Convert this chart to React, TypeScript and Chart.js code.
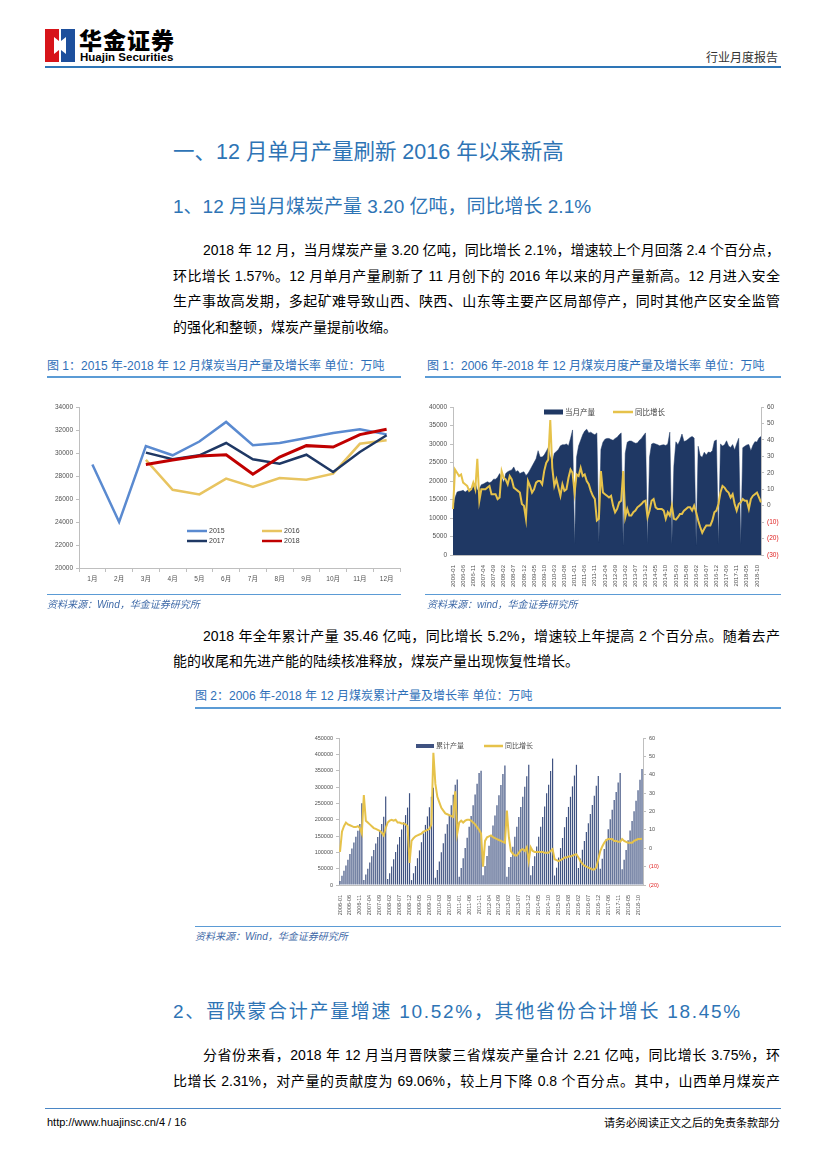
import React, { useEffect, useRef } from 'react';
import { Chart, registerables } from 'chart.js';

Chart.register(...registerables);

// ---------------- DATA ----------------
const MONTHS_1 = ['1月', '2月', '3月', '4月', '5月', '6月', '7月', '8月', '9月', '10月', '11月', '12月'];
const OUT_2015 = [29000, 24000, 30600, 29800, 31000, 32700, 30670, 30870, 31300, 31740, 32060, 31620];
const OUT_2016 = [null, null, 29400, 26800, 26400, 27770, 27040, 27830, 27680, 28200, 30800, 31100];
const OUT_2017 = [null, null, 30030, 29450, 29800, 30870, 29450, 29070, 29850, 28350, 30090, 31540];
const OUT_2018 = [null, null, 29000, 29390, 29740, 29850, 28150, 29650, 30640, 30520, 31600, 32060];

const YEARS = [2006, 2007, 2008, 2009, 2010, 2011, 2012, 2013, 2014, 2015, 2016, 2017, 2018];
const MONTH_CODES = ['01', '02', '03', '04', '05', '06', '07', '08', '09', '10', '11', '12'];
const YEARS_WITHOUT_JAN = [2016, 2017, 2018];
const PERIODS: string[] = YEARS.flatMap((y) =>
  MONTH_CODES.filter((m) => !(m === '01' && YEARS_WITHOUT_JAN.includes(y))).map((m) => `${y}-${m}`)
);

// 当月产量 (万吨)
const MONTHLY_OUTPUT = [
  12500, 15500, 17000, 17200, 17300, 17500, 17000, 17400, 17800, 18000, 18300, 19500,
  17500, 18000, 19000, 19200, 19500, 19800, 19500, 19800, 20500, 20500, 21000, 22000,
  21000, 19500, 22000, 22500, 22800, 23000, 23800, 22500, 22800, 22000, 22300, 22500,
  21500, 22000, 23000, 24000, 25000, 26000, 28200, 26500, 26500, 27000, 28000, 29000,
  26500, 25000, 27500, 28000, 28500, 29500, 29800, 29800, 30000, 29500, 31500, 33800,
  3000, 26500, 29500, 31000, 32500, 33500, 34000, 33000, 33200, 32800, 32500, 33000,
  3500, 28500, 30500, 31300, 31500, 31500, 31200, 31000, 31500, 31800, 32500, 33000,
  2500, 27500, 30500, 30800, 30800, 30500, 30200, 30300, 31000, 31500, 32300, 33000,
  3000, 26500, 30000, 30200, 30000, 29800, 29500, 29700, 29800, 29600, 30000, 33200,
  3000, 24000, 30600, 29800, 31000, 32700, 30670, 30870, 31300, 31740, 32060, 31620,
  2500, 29400, 26800, 26400, 27770, 27040, 27830, 27680, 28200, 30800, 31100,
  3000, 30030, 29450, 29800, 30870, 29450, 29070, 29850, 28350, 30090, 31540,
  3000, 29000, 29390, 29740, 29850, 28150, 29650, 30640, 30520, 31600, 32060,
];

// 当月同比增长 (%)
const MONTHLY_YOY = [
  -2, 22, 20, 18, 19, 14, 13, 12, 9, 10, 14, 10,
  28.5, 3, 10, 10, 10, 11, 12, 7, 7, 7, 4, 5,
  21, 17, 16, 13, 18, 16, 11, 10, 9, 8, 1, 0,
  -8, 15, 12, 8, 10, 14, 15, 15, 13, 21, 26, 28,
  52, 23, 12, 16, 11, 6, 13, 9, 10, 17, 22, 20,
  8, 19, 18, 23, 18, 19, 15, 13, 9, 6, 4, -9,
  -8, 21, 8, 7, 6, 5, 6, 0, -4, -2, 2, 3,
  21, -7, -2, -6, -6, -4, -3, -1, 0, 1, 2.5, 3,
  -7, -3, 3, 4, -1, -2, -2, -2, -3, -8, -4, -6,
  0, -8, -8.5, -7, -5, -5, -3, -2, -1, -1, -3, 0,
  -4, -9, -13, -16.5, -14, -12, -12, -12, -9, -4, -3,
  1, 8, 12, 11, 9, 8, 5, 7, 1, -3, 1,
  2, 4, 3, 3, -2, 4, 6, 7, 8, 5, 2,
];

// 累计产量 (万吨)
const CUM_OUTPUT = [
  12000, 28000, 44000, 60000, 77000, 95000, 112000, 130000, 148000, 166000, 187000, 250000,
  15000, 32000, 50000, 69000, 88000, 107000, 127000, 147000, 167000, 187000, 209000, 271000,
  18000, 36000, 57000, 79000, 101000, 124000, 147000, 170000, 192000, 214000, 237000, 281000,
  15000, 36000, 58000, 82000, 106000, 131000, 158000, 184000, 210000, 238000, 270000, 298000,
  22000, 46000, 72000, 100000, 128000, 157000, 186000, 214000, 244000, 276000, 307000, 323000,
  25000, 52000, 82000, 113000, 145000, 178000, 211000, 244000, 277000, 310000, 343000, 350000,
  30000, 58000, 89000, 120000, 151000, 182000, 213000, 244000, 275000, 306000, 340000, 366000,
  25000, 55000, 86000, 117000, 148000, 178000, 208000, 239000, 270000, 301000, 333000, 368000,
  30000, 58000, 88000, 118000, 148000, 178000, 208000, 240000, 281000, 307000, 349000, 387000,
  29000, 53000, 84000, 113000, 144000, 177000, 208000, 239000, 270000, 302000, 335000, 368000,
  52000, 81000, 108000, 135000, 162000, 189000, 217000, 245000, 273000, 304000, 334000,
  50000, 80000, 110000, 140000, 171000, 201000, 230000, 260000, 285000, 314000, 343000,
  48000, 77000, 107000, 137000, 167000, 196000, 226000, 258000, 290000, 322000, 355000,
];

// 累计同比增长 (%)
const CUM_YOY = [
  -2, 9, 12, 14, 13, 12.5, 12, 11.5, 11.5, 12, 11, 8,
  29, 15, 14, 13, 12, 11, 10.5, 10, 9.5, 8.5, 7, 11,
  14, 15, 15.5, 15, 15.5, 14, 14, 13.5, 13.5, 13, 12, -8,
  4, 5.5, 6.5, 7, 7.5, 8, 9, 9.5, 10, 10.5, 13, 52,
  35, 28, 25, 22, 20.5, 19, 18.5, 18, 17.5, 17, 31, 8,
  14, 15, 14, 15, 15.5, 15.5, 15, 14, 13, 11.5, 10, 8,
  -10, 4, 6, 6.5, 7, 6, 5.5, 5, 4.5, 4, 3.5, 3,
  20.5, 6, -1.5, -3, -4, -4, -2.5, -1, -0.5, -1.5, 0.5, -7,
  0.5, -1.5, -2, -2, -2, -2, -2, -2.5, -2.5, -2.5, -1.5, -0.5,
  -6, -6.5, -7, -6.5, -6, -5, -5, -4.5, -4.5, -4, -3.5, -3.3,
  -5, -7, -8.5, -9.5, -10, -10.5, -11, -11.5, -11.5, -10.5, -6,
  -1.5, 1, 3, 4.5, 5, 5, 5, 4, 4, 3.5, 3.5,
  5, 4, 3.5, 3, 3, 3, 4, 4.5, 5, 5, 5.2,
];

// ---------------- STYLE ----------------
const SANS = '"Liberation Sans", "Noto Sans CJK SC", sans-serif';
const TICK_FONT = '"Liberation Sans", "Noto Sans CJK SC"';
const AXIS_GREY = '#bfbfbf';
const TICK_COLOR = '#505050';
const NAVY = '#1f3864';
const GOLD = '#e6c24a';
const BLUE_TXT = '#2e74b5';

type LegendItem = { ds: number; kind: 'line' | 'box'; x: number; y: number; w: number; h: number };

function makeLegend(items: LegendItem[], font: string, color: string) {
  return {
    id: 'inlineLegend',
    afterDraw(chart: any) {
      const ctx = chart.ctx;
      ctx.save();
      for (const it of items) {
        const ds = chart.data.datasets[it.ds];
        const col = ds.borderColor && it.kind === 'line' ? ds.borderColor : ds.backgroundColor;
        if (it.kind === 'box') {
          ctx.fillStyle = col;
          ctx.fillRect(it.x, it.y - it.h / 2, it.w, it.h);
        } else {
          ctx.strokeStyle = col;
          ctx.lineWidth = it.h;
          ctx.beginPath();
          ctx.moveTo(it.x, it.y);
          ctx.lineTo(it.x + it.w, it.y);
          ctx.stroke();
        }
        ctx.fillStyle = color;
        ctx.font = font;
        ctx.textBaseline = 'middle';
        ctx.textAlign = 'left';
        ctx.fillText(ds.label, it.x + it.w + 2, it.y + 0.5);
      }
      ctx.restore();
    },
  };
}

function ChartBox({ left, top, width, height, make }: { left: number; top: number; width: number; height: number; make: (c: HTMLCanvasElement) => Chart }) {
  const ref = useRef<HTMLCanvasElement | null>(null);
  useEffect(() => {
    if (!ref.current) return;
    const ch = make(ref.current);
    return () => ch.destroy();
  }, []);
  return (
    <div style={{ position: 'absolute', left, top, width, height }}>
      <canvas ref={ref} width={width} height={height} style={{ width, height, display: 'block' }} />
    </div>
  );
}

const every5 = (labels: string[]) => (val: any, i: number) => (i % 5 === 0 ? labels[i] : '');
const plainNum = (v: any) => String(v);

function makeChart1(c: HTMLCanvasElement) {
  const common = { pointRadius: 0, tension: 0, fill: false, spanGaps: false };
  return new Chart(c, {
    type: 'line',
    data: {
      labels: MONTHS_1,
      datasets: [
        { label: '2015', data: OUT_2015, borderColor: '#5a8ad0', backgroundColor: '#5a8ad0', borderWidth: 2.5, order: 3, ...common },
        { label: '2016', data: OUT_2016, borderColor: '#e8c460', backgroundColor: '#e8c460', borderWidth: 2.5, order: 2, ...common },
        { label: '2017', data: OUT_2017, borderColor: NAVY, backgroundColor: NAVY, borderWidth: 2.5, order: 1, ...common },
        { label: '2018', data: OUT_2018, borderColor: '#c00000', backgroundColor: '#c00000', borderWidth: 3, order: 0, ...common },
      ] as any,
    },
    options: {
      responsive: false,
      animation: false,
      devicePixelRatio: 1,
      layout: { padding: { top: 12, right: 10, left: 0, bottom: 0 } },
      plugins: { legend: { display: false }, tooltip: { enabled: false } },
      scales: {
        x: {
          offset: true,
          grid: { offset: true, drawOnChartArea: false, tickLength: 4, color: AXIS_GREY },
          border: { color: AXIS_GREY },
          ticks: { font: { size: 6.5, family: TICK_FONT }, color: TICK_COLOR, padding: 3, maxRotation: 0, minRotation: 0, autoSkip: false },
          afterFit: (s: any) => { s.height = 22; },
        },
        y: {
          min: 20000,
          max: 34000,
          ticks: { stepSize: 2000, font: { size: 6.5, family: TICK_FONT }, color: TICK_COLOR, padding: 3, callback: plainNum },
          grid: { drawOnChartArea: false, tickLength: 3, color: AXIS_GREY },
          border: { color: AXIS_GREY },
          afterFit: (s: any) => { s.width = 39; },
        },
      },
    } as any,
    plugins: [
      makeLegend(
        [
          { ds: 0, kind: 'line', x: 147, y: 136, w: 20, h: 2.5 },
          { ds: 1, kind: 'line', x: 222, y: 136, w: 20, h: 2.5 },
          { ds: 2, kind: 'line', x: 147, y: 146, w: 20, h: 2.5 },
          { ds: 3, kind: 'line', x: 222, y: 146, w: 20, h: 2.5 },
        ],
        `7px ${TICK_FONT}`,
        '#404040'
      ),
    ],
  });
}

function rightTick(v: number) {
  return v < 0 ? `(${-v})` : `${v}`;
}

function makeChart2(c: HTMLCanvasElement) {
  return new Chart(c, {
    type: 'line',
    data: {
      labels: PERIODS,
      datasets: [
        { label: '当月产量', data: MONTHLY_OUTPUT, yAxisID: 'y', fill: 'origin', backgroundColor: NAVY, borderColor: NAVY, borderWidth: 0.5, pointRadius: 0, tension: 0, order: 1 },
        { label: '同比增长', data: MONTHLY_YOY, yAxisID: 'y2', fill: false, borderColor: GOLD, backgroundColor: GOLD, borderWidth: 2, pointRadius: 0, tension: 0, order: 0 },
      ] as any,
    },
    options: {
      responsive: false,
      animation: false,
      devicePixelRatio: 1,
      layout: { padding: { top: 12, right: 0, left: 0, bottom: 0 } },
      plugins: { legend: { display: false }, tooltip: { enabled: false } },
      scales: {
        x: {
          offset: false,
          grid: { display: false },
          border: { color: AXIS_GREY },
          ticks: { autoSkip: false, maxRotation: 90, minRotation: 90, font: { size: 6, family: TICK_FONT }, color: TICK_COLOR, padding: 2, callback: every5(PERIODS) },
          afterFit: (s: any) => { s.height = 40; },
        },
        y: {
          min: 0,
          max: 40000,
          ticks: { stepSize: 5000, font: { size: 6.5, family: TICK_FONT }, color: TICK_COLOR, padding: 3, callback: plainNum },
          grid: { drawOnChartArea: false, tickLength: 3, color: AXIS_GREY },
          border: { color: AXIS_GREY },
          afterFit: (s: any) => { s.width = 33; },
        },
        y2: {
          position: 'right',
          min: -30,
          max: 60,
          ticks: {
            stepSize: 10,
            font: { size: 6.5, family: TICK_FONT },
            color: (ctx: any) => (ctx.tick && ctx.tick.value < 0 ? '#e02020' : TICK_COLOR),
            padding: 3,
            callback: (v: any) => rightTick(Number(v)),
          },
          grid: { drawOnChartArea: false, tickLength: 3, color: AXIS_GREY },
          border: { color: AXIS_GREY },
          afterFit: (s: any) => { s.width = 29; },
        },
      },
    } as any,
    plugins: [
      makeLegend(
        [
          { ds: 0, kind: 'box', x: 124, y: 17, w: 19, h: 5 },
          { ds: 1, kind: 'line', x: 193, y: 17, w: 20, h: 2.5 },
        ],
        `7.5px ${TICK_FONT}`,
        '#404040'
      ),
    ],
  });
}

function makeChart3(c: HTMLCanvasElement) {
  return new Chart(c, {
    type: 'bar',
    data: {
      labels: PERIODS,
      datasets: [
        { type: 'line', label: '同比增长', data: CUM_YOY, yAxisID: 'y2', borderColor: GOLD, backgroundColor: GOLD, borderWidth: 2, pointRadius: 0, tension: 0, order: 0 },
        { type: 'bar', label: '累计产量', data: CUM_OUTPUT, yAxisID: 'y', backgroundColor: '#3f5281', borderWidth: 0, barPercentage: 0.6, categoryPercentage: 1, order: 1 },
      ] as any,
    },
    options: {
      responsive: false,
      animation: false,
      devicePixelRatio: 1,
      layout: { padding: { top: 13, right: 0, left: 0, bottom: 0 } },
      plugins: { legend: { display: false }, tooltip: { enabled: false } },
      scales: {
        x: {
          grid: { display: false },
          border: { color: AXIS_GREY },
          ticks: { autoSkip: false, maxRotation: 90, minRotation: 90, font: { size: 5.5, family: TICK_FONT }, color: TICK_COLOR, padding: 2, callback: every5(PERIODS) },
          afterFit: (s: any) => { s.height = 40; },
        },
        y: {
          min: 0,
          max: 450000,
          ticks: { stepSize: 50000, font: { size: 5.5, family: TICK_FONT }, color: TICK_COLOR, padding: 3, callback: plainNum },
          grid: { drawOnChartArea: false, tickLength: 3, color: AXIS_GREY },
          border: { color: AXIS_GREY },
          afterFit: (s: any) => { s.width = 29; },
        },
        y2: {
          position: 'right',
          min: -20,
          max: 60,
          ticks: {
            stepSize: 10,
            font: { size: 5.5, family: TICK_FONT },
            color: (ctx: any) => (ctx.tick && ctx.tick.value < 0 ? '#e02020' : TICK_COLOR),
            padding: 3,
            callback: (v: any) => rightTick(Number(v)),
          },
          grid: { drawOnChartArea: false, tickLength: 3, color: AXIS_GREY },
          border: { color: AXIS_GREY },
          afterFit: (s: any) => { s.width = 20; },
        },
      },
    } as any,
    plugins: [
      makeLegend(
        [
          { ds: 1, kind: 'box', x: 106, y: 21, w: 18, h: 4 },
          { ds: 0, kind: 'line', x: 174, y: 21, w: 19, h: 2.5 },
        ],
        `7px ${TICK_FONT}`,
        '#505050'
      ),
    ],
  });
}

// ---------------- TEXT HELPERS ----------------
function T({ x, y, size, color = '#000', children, width, justify, italic, bold, family = SANS, align, spacing }: any) {
  const lh = size * 1.3;
  return (
    <div
      style={{
        position: 'absolute',
        left: x,
        top: y - lh / 2,
        width: width,
        fontSize: size,
        lineHeight: `${lh}px`,
        color,
        fontFamily: family,
        fontStyle: italic ? 'italic' : 'normal',
        fontWeight: bold ? 700 : 400,
        letterSpacing: spacing,
        whiteSpace: 'nowrap',
        textAlign: align || (justify ? 'justify' : 'left'),
        textAlignLast: justify ? 'justify' : undefined,
      } as any}
    >
      {children}
    </div>
  );
}

function HLine({ x1, x2, y, color, w = 1 }: any) {
  return <div style={{ position: 'absolute', left: x1, top: y - w / 2, width: x2 - x1, height: w, background: color }} />;
}

export default function App() {
  const capColor = '#2f6fb8';
  const lineBlue = '#5b9bd5';
  const srcColor = '#3f6aa8';
  return (
    <div style={{ position: 'absolute', left: 0, top: 0, width: 827, height: 1169, background: '#fff', overflow: 'hidden' }}>
      {/* logo */}
      <svg style={{ position: 'absolute', left: 45, top: 29 }} width={30} height={33} viewBox="0 0 30 33">
        <rect x={0} y={0} width={14} height={33} fill="#d7141a" />
        <rect x={16} y={0} width={14} height={33} fill="#1d4f9c" />
        <polygon points="9,8 14,12 14,21 9,25" fill="#fff" />
        <polygon points="21,8 16,12 16,21 21,25" fill="#fff" />
        <rect x={11} y={15} width={8} height={3} fill="#fff" />
      </svg>
      <T x={79} y={40} size={23} bold family='"Noto Sans CJK SC", sans-serif'>
        <span style={{ letterSpacing: 1, fontWeight: 900 }}>华金证券</span>
      </T>
      <T x={80} y={57} size={11.5} bold>Huajin Securities</T>
      <T x={706} y={57} size={12} color="#333" family='"Noto Sans CJK SC", sans-serif'>行业月度报告</T>
      <HLine x1={45} x2={781} y={67} color="#2e75b6" w={2} />

      {/* headings */}
      <T x={173} y={153} size={21.5} color={BLUE_TXT}>一、12 月单月产量刷新 2016 年以来新高</T>
      <T x={173} y={207} size={19} color={BLUE_TXT}>1、12 月当月煤炭产量 3.20 亿吨，同比增长 2.1%</T>

      <T x={203} y={250} size={14} width={577} justify>2018 年 12 月，当月煤炭产量 3.20 亿吨，同比增长 2.1%，增速较上个月回落 2.4 个百分点，</T>
      <T x={173} y={276} size={14} width={607} justify>环比增长 1.57%。12 月单月产量刷新了 11 月创下的 2016 年以来的月产量新高。12 月进入安全</T>
      <T x={173} y={301} size={14} width={607} justify>生产事故高发期，多起矿难导致山西、陕西、山东等主要产区局部停产，同时其他产区安全监管</T>
      <T x={173} y={327} size={14}>的强化和整顿，煤炭产量提前收缩。</T>

      {/* figure captions */}
      <T x={47} y={367} size={12} color={capColor}>图 1：2015 年-2018 年 12 月煤炭当月产量及增长率 单位：万吨</T>
      <T x={427} y={367} size={12} color={capColor}>图 1：2006 年-2018 年 12 月煤炭月度产量及增长率 单位：万吨</T>
      <HLine x1={47} x2={401} y={377} color={lineBlue} w={2} />
      <HLine x1={425} x2={781} y={377} color={lineBlue} w={2} />

      <ChartBox left={40} top={395} width={370} height={195} make={makeChart1} />
      <ChartBox left={420} top={395} width={370} height={200} make={makeChart2} />

      <HLine x1={47} x2={401} y={594} color={lineBlue} w={1} />
      <HLine x1={425} x2={781} y={594} color={lineBlue} w={1} />
      <T x={47} y={604} size={10} italic color={srcColor}>资料来源：Wind，华金证券研究所</T>
      <T x={427} y={604} size={10} italic color={srcColor}>资料来源：wind，华金证券研究所</T>

      <T x={203} y={636} size={14} width={577} justify>2018 年全年累计产量 35.46 亿吨，同比增长 5.2%，增速较上年提高 2 个百分点。随着去产</T>
      <T x={173} y={661} size={14}>能的收尾和先进产能的陆续核准释放，煤炭产量出现恢复性增长。</T>

      <T x={195} y={697} size={12} color={capColor}>图 2：2006 年-2018 年 12 月煤炭累计产量及增长率 单位：万吨</T>
      <HLine x1={195} x2={781} y={708} color={lineBlue} w={2} />

      <ChartBox left={310} top={725} width={353} height={200} make={makeChart3} />

      <HLine x1={195} x2={781} y={926} color={lineBlue} w={1} />
      <T x={195} y={936} size={10} italic color={srcColor}>资料来源：Wind，华金证券研究所</T>

      <T x={173} y={1012} size={19} color={BLUE_TXT} spacing={1.7}>2、晋陕蒙合计产量增速 10.52%，其他省份合计增长 18.45%</T>

      <T x={203} y={1055} size={14} width={577} justify>分省份来看，2018 年 12 月当月晋陕蒙三省煤炭产量合计 2.21 亿吨，同比增长 3.75%，环</T>
      <T x={173} y={1081} size={14} width={607} justify>比增长 2.31%，对产量的贡献度为 69.06%，较上月下降 0.8 个百分点。其中，山西单月煤炭产</T>

      <HLine x1={45} x2={781} y={1108} color="#4a86c5" w={1} />
      <T x={47} y={1122} size={11}>http://www.huajinsc.cn/4 / 16</T>
      <T x={580} y={1122} size={11} width={200} align="right" family='"Noto Sans CJK SC", sans-serif'>请务必阅读正文之后的免责条款部分</T>
    </div>
  );
}
